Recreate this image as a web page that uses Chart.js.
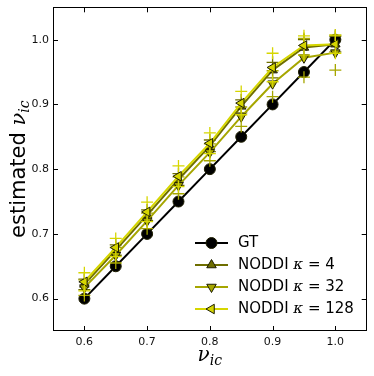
<!DOCTYPE html>
<html><head><meta charset="utf-8">
<script src="https://cdn.jsdelivr.net/npm/chart.js@4"></script>
<style>html,body{margin:0;padding:0;background:#fff}</style>
</head><body>
<canvas id="c" width="374" height="376" style="width:374px;height:376px;display:block"></canvas>
<script>
// ---- data ----
const xValues = [0.6, 0.65, 0.7, 0.75, 0.8, 0.85, 0.9, 0.95, 1.0];
const gtValues = [0.6, 0.65, 0.7, 0.75, 0.8, 0.85, 0.9, 0.95, 1.0];
const k4Values = [0.622, 0.675, 0.729, 0.784, 0.836, 0.897, 0.953, 0.988, 0.993];
const k32Values = [0.617, 0.667, 0.720, 0.775, 0.826, 0.881, 0.932, 0.972, 0.980];
const k128Values = [0.626, 0.679, 0.734, 0.789, 0.840, 0.902, 0.957, 0.991, 0.993];
const k4Std = [0.008, 0.008, 0.008, 0.009, 0.009, 0.010, 0.012, 0.012, 0.012];
const k32Std = [0.012, 0.012, 0.012, 0.013, 0.013, 0.015, 0.020, 0.030, 0.027];
const k128Std = [0.014, 0.014, 0.015, 0.016, 0.016, 0.018, 0.022, 0.015, 0.014];
const tickValues = [0.6, 0.7, 0.8, 0.9, 1.0];
const legendLabels = ['GT', 'NODDI \u03ba = 4', 'NODDI \u03ba = 32', 'NODDI \u03ba = 128'];

const colK4 = '#6e6e00', colK32 = '#a6a600', colK128 = '#d6d600', edge = '#1e1e00';

const pts = (ys) => xValues.map((x, i) => ({x, y: ys[i]}));
const shifted = (ys, sd, s) => xValues.map((x, i) => ({x, y: ys[i] + s * sd[i]}));

function lineDs(label, ys, lineCol, face, style, rot, order) {
  return {label, data: pts(ys), type: 'line', borderColor: lineCol, borderWidth: 2,
    pointStyle: style, rotation: rot, pointRadius: 5.5, pointBackgroundColor: face,
    pointBorderColor: edge, pointBorderWidth: 1, order, fill: false, tension: 0};
}
function errDs(ys, sd, s, col, order) {
  return {data: shifted(ys, sd, s), type: 'scatter', showLine: false, pointStyle: 'cross',
    pointRadius: 6, borderColor: col, pointBorderColor: col, pointBorderWidth: 1.3, order};
}

const datasets = [
  lineDs(legendLabels[0], gtValues, '#000', '#000', 'circle', 0, 20),
  lineDs(legendLabels[1], k4Values, colK4, colK4, 'triangle', 0, 16),
  errDs(k4Values, k4Std, 1, colK4, 15), errDs(k4Values, k4Std, -1, colK4, 15),
  lineDs(legendLabels[2], k32Values, colK32, colK32, 'triangle', 180, 12),
  errDs(k32Values, k32Std, 1, colK32, 11), errDs(k32Values, k32Std, -1, colK32, 11),
  lineDs(legendLabels[3], k128Values, colK128, colK128, 'triangle', -90, 8),
  errDs(k128Values, k128Std, 1, colK128, 7), errDs(k128Values, k128Std, -1, colK128, 7),
];

function drawMarker(ctx, style, rot, x, y) {
  Chart.helpers.drawPoint(ctx, {pointStyle: style, rotation: rot, radius: 5.5, borderWidth: 1}, x, y);
}

const decor = {
  id: 'decor',
  afterDraw(chart) {
    const ctx = chart.ctx, a = chart.chartArea;
    const xs = chart.scales.x, ys = chart.scales.y;
    ctx.save();
    // frame
    ctx.strokeStyle = '#000'; ctx.lineWidth = 1;
    ctx.strokeRect(Math.round(a.left) + 0.5, Math.round(a.top) + 0.5, Math.round(a.right - a.left) - 1, Math.round(a.bottom - a.top) - 1);
    // inward ticks
    const tl = 5;
    ctx.beginPath();
    tickValues.forEach(v => {
      const px = Math.round(xs.getPixelForValue(v)) + 0.5;
      ctx.moveTo(px, a.bottom); ctx.lineTo(px, a.bottom - tl);
      ctx.moveTo(px, a.top); ctx.lineTo(px, a.top + tl);
      const py = Math.round(ys.getPixelForValue(v)) + 0.5;
      ctx.moveTo(a.left, py); ctx.lineTo(a.left + tl, py);
      ctx.moveTo(a.right, py); ctx.lineTo(a.right - tl, py);
    });
    ctx.stroke();

    // legend
    const rows = [
      {style: 'circle', rot: 0, line: '#000', face: '#000'},
      {style: 'triangle', rot: 0, line: colK4, face: colK4},
      {style: 'triangle', rot: 180, line: colK32, face: colK32},
      {style: 'triangle', rot: -90, line: colK128, face: colK128},
    ];
    const lx0 = 195, lx1 = 228, tx = 238, y0 = 243, dy = 22;
    rows.forEach((r, i) => {
      const y = y0 + i * dy;
      ctx.strokeStyle = r.line; ctx.lineWidth = 2;
      ctx.beginPath(); ctx.moveTo(lx0, y); ctx.lineTo(lx1, y); ctx.stroke();
      ctx.fillStyle = r.face; ctx.strokeStyle = edge; ctx.lineWidth = 1;
      drawMarker(ctx, r.style, r.rot, (lx0 + lx1) / 2, y);
      ctx.fillStyle = '#000'; ctx.textBaseline = 'middle'; ctx.textAlign = 'left';
      const lab = legendLabels[i];
      const k = lab.indexOf('\u03ba');
      ctx.font = '15px "DejaVu Sans"';
      if (k < 0) {
        ctx.fillText(lab, tx, y);
      } else {
        const pre = lab.slice(0, k);
        ctx.fillText(pre, tx, y);
        let x = tx + ctx.measureText(pre).width;
        ctx.font = 'italic 15px "DejaVu Serif"';
        ctx.fillText('\u03ba', x, y);
        x += ctx.measureText('\u03ba').width;
        ctx.font = '15px "DejaVu Sans"';
        ctx.fillText(lab.slice(k + 1), x, y);
      }
    });

    // x title
    ctx.fillStyle = '#000'; ctx.textBaseline = 'alphabetic'; ctx.textAlign = 'left';
    ctx.font = 'italic 20px "DejaVu Serif"';
    const wNu = ctx.measureText('\u03bd').width;
    ctx.font = 'italic 14px "DejaVu Serif"';
    const wIc = ctx.measureText('ic').width;
    let cx = (a.left + a.right) / 2 - (wNu + wIc) / 2;
    ctx.font = 'italic 20px "DejaVu Serif"';
    ctx.fillText('\u03bd', cx, 361);
    ctx.font = 'italic 14px "DejaVu Serif"';
    ctx.fillText('ic', cx + wNu, 365);

    // y title
    ctx.translate(18, (a.top + a.bottom) / 2);
    ctx.rotate(-Math.PI / 2);
    ctx.font = '21px "DejaVu Sans"';
    const pre = 'estimated ';
    const wPre = ctx.measureText(pre).width;
    ctx.font = 'italic 21px "DejaVu Serif"';
    const wNu2 = ctx.measureText('\u03bd').width;
    ctx.font = 'italic 14px "DejaVu Serif"';
    const wIc2 = ctx.measureText('ic').width;
    let sx = -(wPre + wNu2 + wIc2) / 2;
    ctx.font = '21px "DejaVu Sans"';
    ctx.fillText(pre, sx, 7);
    ctx.font = 'italic 21px "DejaVu Serif"';
    ctx.fillText('\u03bd', sx + wPre, 7);
    ctx.font = 'italic 14px "DejaVu Serif"';
    ctx.fillText('ic', sx + wPre + wNu2, 11);
    ctx.restore();
  }
};

new Chart(document.getElementById('c'), {
  type: 'line',
  data: {datasets},
  options: {
    responsive: false, animation: false, devicePixelRatio: 1,
    layout: {padding: {top: 0, right: 7, left: 0, bottom: 0}},
    plugins: {legend: {display: false}, tooltip: {enabled: false}},
    scales: {
      x: {type: 'linear', min: 0.55, max: 1.05,
        afterBuildTicks: s => { s.ticks = tickValues.map(v => ({value: v})); },
        afterFit: s => { s.height = 45; },
        grid: {display: false, drawTicks: false}, border: {display: false},
        ticks: {padding: 5, color: '#111', font: {family: 'DejaVu Sans', size: 11}, maxRotation: 0,
          callback: v => Number(v).toFixed(1)}},
      y: {type: 'linear', min: 0.55, max: 1.05,
        afterBuildTicks: s => { s.ticks = tickValues.map(v => ({value: v})); },
        afterFit: s => { s.width = 53; s.paddingTop = 0; },
        grid: {display: false, drawTicks: false}, border: {display: false},
        ticks: {padding: 4, color: '#111', font: {family: 'DejaVu Sans', size: 11},
          callback: v => Number(v).toFixed(1)}}
    }
  },
  plugins: [decor]
});
</script>
</body></html>
